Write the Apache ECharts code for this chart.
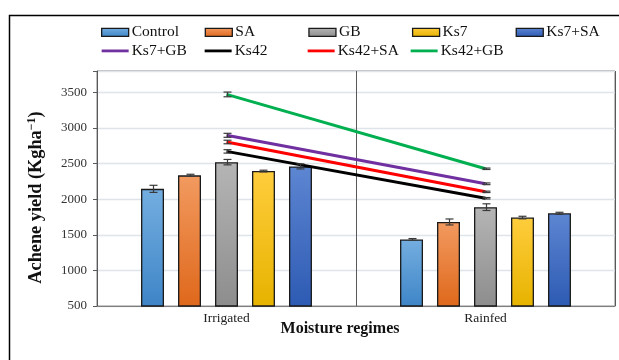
<!DOCTYPE html>
<html>
<head>
<meta charset="utf-8">
<script src="https://cdn.jsdelivr.net/npm/echarts@6/dist/echarts.min.js"></script>
<style>html,body{margin:0;padding:0;background:#fff;}#c{width:619px;height:360px;}</style>
</head>
<body>
<div id="c"></div>
<script>
const categories = ['Irrigated', 'Rainfed'];
const barNames = ['Control', 'SA', 'GB', 'Ks7', 'Ks7+SA'];
// values per bar series: [Irrigated, Rainfed]
const valControl = [2145, 1435];
const valSA = [2335, 1680];
const valGB = [2520, 1888];
const valKs7 = [2395, 1742];
const valKs7SA = [2460, 1802];
const errControl = [50, 12];
const errSA = [15, 42];
const errGB = [38, 47];
const errKs7 = [12, 18];
const errKs7SA = [35, 14];
const lineNames = ['Ks7+GB', 'Ks42', 'Ks42+SA', 'Ks42+GB'];
const valKs7GB = [2897, 2216];
const valKs42 = [2671, 2013];
const valKs42SA = [2803, 2103];
const valKs42GB = [3471, 2427];
const errKs7GB = [28, 12];
const errKs42 = [24, 10];
const errKs42SA = [25, 10];
const errKs42GB = [33, 10];
const yTicks = [500, 1000, 1500, 2000, 2500, 3000, 3500];

const FONT = 'Liberation Serif';
const barValues = [valControl, valSA, valGB, valKs7, valKs7SA];
const barErrs = [errControl, errSA, errGB, errKs7, errKs7SA];
const lineValues = [valKs7GB, valKs42, valKs42SA, valKs42GB];
const lineErrs = [errKs7GB, errKs42, errKs42SA, errKs42GB];
const barGrad = [
  ['#74aee0', '#3e85c7'],
  ['#f29a60', '#df681b'],
  ['#b5b5b5', '#8d8d8d'],
  ['#ffcd3c', '#e6b300'],
  ['#5d86d2', '#2d5ab3']
];
const lineColors = ['#7030a0', '#000000', '#ff0000', '#00b050'];
const CAT_GAP = 0.34, BAR_GAP = 0.61;
const LINE_ICON = 'path://M0,0M0,8M0,2.6L27,2.6L27,5.4L0,5.4Z';

function grad(c) {
  return new echarts.graphic.LinearGradient(0, 0, 0, 1, [{offset: 0, color: c[0]}, {offset: 1, color: c[1]}]);
}

function errRender(offsetIndex, nBars) {
  return function (params, api) {
    const cat = api.value(0), v = api.value(1), e = api.value(2);
    const band = api.size([1, 0])[0];
    let off = 0;
    if (offsetIndex !== null) {
      const total = band * (1 - CAT_GAP);
      const bw = total / (nBars + (nBars - 1) * BAR_GAP);
      off = (offsetIndex - (nBars - 1) / 2) * bw * (1 + BAR_GAP);
    }
    const t = api.coord([cat, v + e]);
    const b = api.coord([cat, v - e]);
    const x = Math.round(t[0] + off) + 0.5;
    const h = 4;
    const st = {stroke: '#3a3a3a', lineWidth: 1.2};
    return {
      type: 'group',
      children: [
        {type: 'line', shape: {x1: x, y1: t[1], x2: x, y2: b[1]}, style: st},
        {type: 'line', shape: {x1: x - h, y1: t[1], x2: x + h, y2: t[1]}, style: st},
        {type: 'line', shape: {x1: x - h, y1: b[1], x2: x + h, y2: b[1]}, style: st}
      ]
    };
  };
}

const series = [];
barNames.forEach((n, i) => {
  series.push({
    name: n, type: 'bar', data: barValues[i],
    barCategoryGap: (CAT_GAP * 100) + '%', barGap: (BAR_GAP * 100) + '%',
    itemStyle: {color: grad(barGrad[i]), borderColor: '#1a1a1a', borderWidth: 1.3},
    z: 2
  });
});
barNames.forEach((n, i) => {
  series.push({
    type: 'custom', name: n + '_err', silent: true, z: 5,
    renderItem: errRender(i, barNames.length),
    encode: {x: 0, y: 1},
    data: categories.map((c, k) => [k, barValues[i][k], barErrs[i][k]])
  });
});
lineNames.forEach((n, i) => {
  series.push({
    name: n, type: 'line', data: lineValues[i], symbol: 'none',
    lineStyle: {color: lineColors[i], width: 3}, itemStyle: {color: lineColors[i]},
    z: 4
  });
  series.push({
    type: 'custom', name: n + '_err', silent: true, z: 6,
    renderItem: errRender(null, 1),
    encode: {x: 0, y: 1},
    data: categories.map((c, k) => [k, lineValues[i][k], lineErrs[i][k]])
  });
});

const legendData = barNames.map(n => ({name: n, icon: 'rect'}))
  .concat(lineNames.map((n, i) => ({name: n, icon: LINE_ICON, itemStyle: {color: lineColors[i], borderWidth: 0}})));

const chart = echarts.init(document.getElementById('c'), null, {renderer: 'canvas'});
chart.setOption({
  animation: false,
  backgroundColor: '#fff',
  grid: {left: 97, right: 4, top: 71, bottom: 54, show: true, borderColor: '#7f7f7f', borderWidth: 1},
  legend: {
    data: legendData,
    left: 101, top: 23, width: 520, padding: 0, itemGap: 0,
    itemWidth: 27, itemHeight: 8, itemStyle: {borderColor: '#1a1a1a', borderWidth: 1.3},
    textStyle: {fontFamily: FONT, fontSize: 15.5, color: '#111', width: 73, lineHeight: 18.6, padding: [0, 0, 0, -2]}
  },
  xAxis: {
    type: 'category', data: categories,
    axisLine: {lineStyle: {color: '#7f7f7f', width: 1}},
    axisTick: {show: false},
    splitLine: {show: true, lineStyle: {color: '#595959', width: 1}},
    axisLabel: {fontFamily: FONT, fontSize: 13.5, color: '#222', margin: 5}
  },
  yAxis: {
    type: 'value', min: 500, max: 3800, interval: 500,
    axisLine: {show: true, lineStyle: {color: '#595959', width: 1}},
    axisTick: {show: true, length: 4, lineStyle: {color: '#595959'}},
    splitLine: {lineStyle: {color: '#dfe4ea', width: 1.3}},
    axisLabel: {fontFamily: FONT, fontSize: 13, color: '#333', margin: 10,
      formatter: v => (yTicks.indexOf(v) >= 0 ? String(v) : '')},
    name: '{b|Achene yield (Kgha}{s|−1}{b|)}',
    nameLocation: 'middle', nameGap: 50,
    nameTextStyle: {
      padding: [0, 18, 0, 0],
      rich: {
        b: {fontFamily: FONT, fontSize: 18.3, fontWeight: 'bold', color: '#111'},
        s: {fontFamily: FONT, fontSize: 12, fontWeight: 'bold', color: '#111', verticalAlign: 'top', padding: [0, 0, 9, 0]}
      }
    }
  },
  graphic: [
    {type: 'rect', shape: {x: 9.5, y: 15.5, width: 700, height: 500}, style: {fill: 'none', stroke: '#000', lineWidth: 1.5}, z: 0, silent: true},
    {type: 'text', x: 340, y: 329, style: {text: 'Moisture regimes', fontFamily: FONT, fontSize: 16, fontWeight: 'bold', fill: '#111', textAlign: 'center', textVerticalAlign: 'middle'}}
  ],
  series: series
});
</script>
</body>
</html>
